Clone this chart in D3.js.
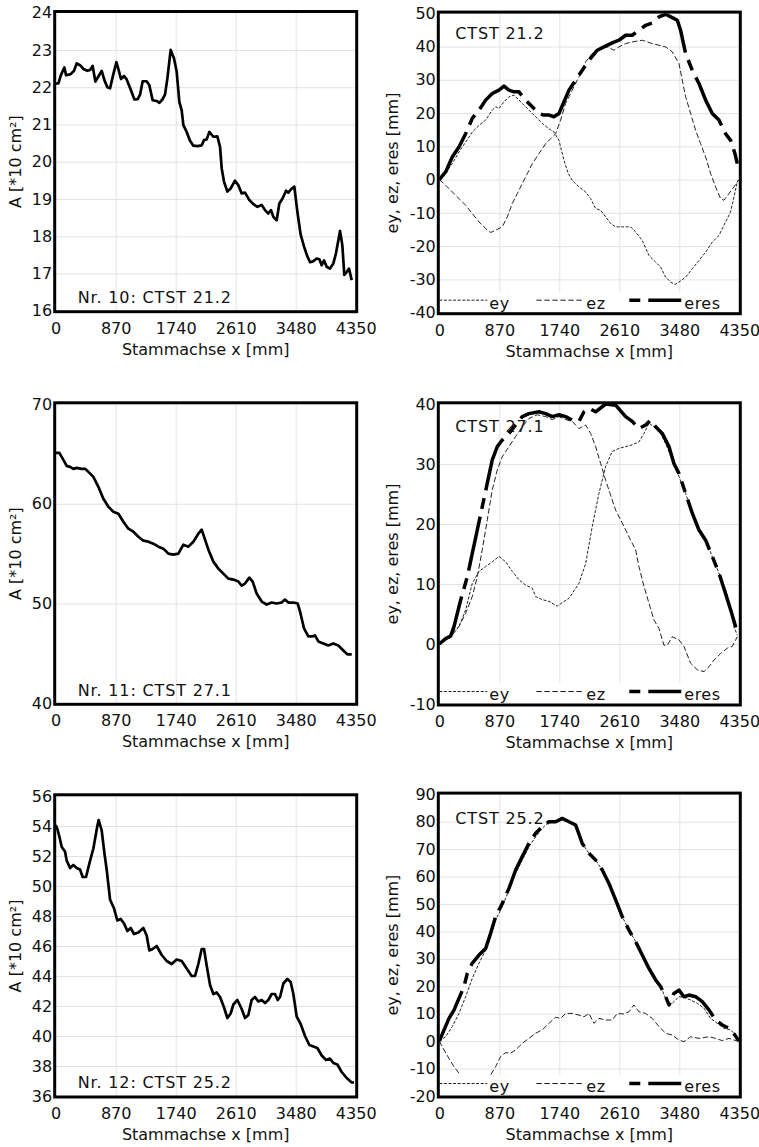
<!DOCTYPE html>
<html>
<head>
<meta charset="utf-8">
<script src="https://cdn.jsdelivr.net/npm/d3@7"></script>
<style>
  body { margin: 0; background: #fff; }
  svg { display: block; font-family: "DejaVu Sans", sans-serif; }
</style>
</head>
<body>
<svg id="chart" width="759" height="1147"></svg>
<script>
// x axis is the same for all six panels
const xTicks = [0, 870, 1740, 2610, 3480, 4350];

// Nr. 10: CTST 21.2
const nr10Ticks = [16, 17, 18, 19, 20, 21, 22, 23, 24];
const nr10Area = [[0,22.1],[39,22.1],[77,22.33],[126,22.53],[150,22.32],[217,22.35],[266,22.44],[304,22.64],[353,22.59],[401,22.49],[459,22.44],[498,22.46],[536,22.57],[575,22.15],[623,22.3],[667,22.44],[706,22.19],[749,22.0],[788,21.97],[836,22.35],[880,22.67],[913,22.46],[947,22.22],[991,22.3],[1029,22.21],[1087,21.94],[1141,21.67],[1189,21.68],[1223,21.8],[1261,22.16],[1319,22.16],[1358,22.05],[1406,21.65],[1464,21.63],[1503,21.58],[1547,21.67],[1585,21.8],[1619,22.23],[1667,23.0],[1716,22.77],[1754,22.42],[1793,21.6],[1827,21.38],[1851,20.98],[1899,20.8],[1948,20.56],[1996,20.43],[2054,20.42],[2117,20.44],[2151,20.58],[2189,20.6],[2228,20.8],[2286,20.67],[2344,20.68],[2383,20.4],[2407,19.82],[2441,19.46],[2489,19.2],[2537,19.28],[2600,19.49],[2648,19.37],[2697,19.15],[2745,19.17],[2808,18.97],[2866,18.86],[2924,18.79],[2987,18.84],[3035,18.7],[3083,18.61],[3122,18.7],[3156,18.52],[3204,18.43],[3243,18.88],[3291,19.02],[3340,19.22],[3373,19.17],[3412,19.26],[3460,19.33],[3504,18.66],[3552,18.04],[3601,17.72],[3649,17.46],[3688,17.3],[3736,17.33],[3784,17.4],[3823,17.38],[3857,17.22],[3891,17.35],[3929,17.18],[3977,17.13],[4026,17.27],[4064,17.54],[4123,18.14],[4156,17.76],[4185,16.96],[4219,17.04],[4253,17.13],[4292,16.82]];
const nr10ETicks = [-40, -30, -20, -10, 0, 10, 20, 30, 40, 50];
const nr10Ey = [[0,0],[92,2],[188,4.8],[285,8.3],[382,11.3],[478,14.3],[575,16.3],[672,17.9],[768,20.9],[817,21.9],[865,21.4],[938,23.4],[1010,24.9],[1083,25.4],[1155,23.9],[1252,21.9],[1348,19.9],[1421,18.4],[1493,16.9],[1590,15.3],[1663,14.3],[1735,11.8],[1808,5.8],[1870,1.8],[1928,-0.2],[2025,-2.2],[2122,-3.7],[2194,-5.7],[2267,-8.7],[2339,-9.2],[2412,-11.2],[2484,-13.2],[2557,-14.2],[2653,-14.2],[2774,-14.2],[2847,-15.7],[2943,-18.3],[3040,-22.8],[3137,-24.8],[3209,-26.3],[3282,-29.3],[3354,-30.8],[3417,-31.5],[3475,-30.8],[3572,-29.3],[3668,-26.8],[3765,-24.3],[3862,-21.8],[3958,-18.8],[4055,-16.8],[4127,-13.7],[4224,-9.7],[4272,-5.2],[4321,-0.7],[4345,0]];
const nr10Ez = [[0,0],[92,-1.7],[237,-4.7],[382,-7.7],[478,-10.2],[575,-12.7],[672,-14.7],[744,-15.9],[817,-15.2],[913,-14.2],[986,-11.2],[1058,-7.2],[1131,-4.2],[1203,-1.2],[1276,1.8],[1348,4.8],[1445,7.8],[1542,10.8],[1614,12.3],[1687,13.8],[1759,17.9],[1832,22.9],[1928,26.9],[2025,30.9],[2122,35.4],[2218,37.9],[2315,39.4],[2436,39.9],[2533,38.9],[2605,39.9],[2702,40.9],[2798,41.4],[2943,41.9],[3088,40.9],[3282,39.9],[3378,38.4],[3475,34.9],[3523,29.9],[3572,24.9],[3644,19.9],[3717,14.8],[3789,10.8],[3862,6.8],[3934,1.8],[4007,-2.2],[4079,-5.7],[4127,-6.2],[4200,-4.2],[4272,-2.2],[4335,-0.2]];
const nr10Eres = [[0,0],[92,2.3],[188,6.8],[285,9.8],[382,13.8],[478,18.4],[575,20.9],[672,23.9],[768,25.9],[865,26.9],[938,28.1],[1010,26.9],[1083,26.4],[1155,26.4],[1252,23.9],[1348,21.9],[1445,19.9],[1517,19.4],[1590,19.4],[1663,18.9],[1735,19.9],[1808,23.4],[1880,26.9],[1977,29.9],[2073,32.9],[2170,35.9],[2291,38.9],[2388,39.9],[2508,41.1],[2605,41.9],[2702,43.4],[2798,43.4],[2895,44.9],[2992,46.4],[3088,47.1],[3185,48.9],[3282,49.7],[3378,48.7],[3451,47.9],[3499,44.9],[3572,37.9],[3668,32.9],[3765,28.9],[3862,23.9],[3958,19.9],[4055,17.9],[4151,13.8],[4224,11.8],[4287,7.8],[4321,4.8]];

// Nr. 11: CTST 27.1
const nr11Ticks = [40, 50, 60, 70];
const nr11Area = [[0,65.1],[53,65.1],[111,64.4],[159,63.8],[208,63.7],[256,63.5],[304,63.6],[377,63.5],[425,63.5],[474,63.2],[546,62.7],[619,61.7],[691,60.5],[764,59.7],[836,59.2],[909,59.0],[981,58.2],[1054,57.5],[1126,57.2],[1199,56.7],[1271,56.3],[1344,56.2],[1416,56.0],[1489,55.7],[1561,55.5],[1634,55.0],[1706,54.9],[1779,55.0],[1851,55.9],[1924,55.7],[1996,56.2],[2068,57.0],[2117,57.4],[2151,56.7],[2214,55.4],[2286,54.2],[2359,53.5],[2431,53.0],[2504,52.5],[2576,52.4],[2649,52.2],[2697,51.8],[2745,52.0],[2808,52.6],[2856,52.2],[2914,51.0],[2987,50.2],[3059,49.9],[3132,50.1],[3204,50.0],[3276,50.1],[3325,50.4],[3373,50.1],[3446,50.1],[3509,50.0],[3543,49.2],[3601,47.5],[3663,46.7],[3712,46.7],[3760,46.8],[3808,46.2],[3881,46.0],[3953,45.8],[4026,46.0],[4098,45.8],[4171,45.3],[4229,44.9],[4292,44.9]];
const nr11ETicks = [-10, 0, 10, 20, 30, 40];
const nr11Ey = [[0,0],[92,0.7],[188,1.8],[285,2.9],[382,5.7],[478,10.1],[575,12.1],[672,12.9],[768,13.7],[865,14.6],[962,13.7],[1058,12.1],[1155,10.7],[1252,9.8],[1348,9.3],[1397,7.9],[1493,7.4],[1590,7.1],[1711,6.3],[1783,6.9],[1880,7.6],[2025,10.1],[2122,13.4],[2218,19.6],[2315,25.1],[2412,29.6],[2508,32.1],[2605,32.6],[2702,32.9],[2798,33.2],[2895,33.7],[2968,35.1],[3040,36.8],[3112,36.2],[3209,35.1],[3282,33.4],[3378,30.7],[3475,27.9],[3572,25.1],[3668,21.8],[3765,19.0],[3862,17.3],[3958,14.6],[4055,11.8],[4151,9.0],[4224,5.7],[4272,2.9],[4321,1.5]];
const nr11Ez = [[0,0],[92,0.7],[188,1.5],[285,2.9],[382,5.1],[478,7.9],[551,11.2],[623,15.7],[696,20.7],[768,25.7],[841,29.0],[913,31.2],[1010,32.9],[1107,34.6],[1203,36.2],[1300,37.6],[1421,38.2],[1542,37.9],[1638,37.4],[1735,37.9],[1832,37.4],[1928,37.1],[2025,35.9],[2122,36.5],[2194,35.1],[2267,32.9],[2339,30.1],[2412,27.3],[2484,24.8],[2557,22.3],[2629,20.7],[2702,19.0],[2774,17.3],[2847,15.7],[2895,12.9],[2968,9.6],[3040,6.8],[3112,4.0],[3185,2.6],[3257,-0.2],[3306,-0.2],[3378,1.2],[3475,0.7],[3547,-0.4],[3644,-3.2],[3741,-4.3],[3838,-4.6],[3910,-3.8],[3982,-2.7],[4079,-1.6],[4176,-0.7],[4248,-0.4],[4321,1.2]];
const nr11Eres = [[0,0],[92,0.9],[164,1.3],[213,2.9],[309,7.3],[406,11.2],[478,15.1],[551,19.0],[623,22.9],[696,26.8],[768,30.7],[841,32.9],[913,34.0],[1010,35.1],[1107,36.5],[1203,37.9],[1300,38.4],[1445,38.7],[1542,38.4],[1638,37.9],[1735,38.2],[1832,37.9],[1928,37.3],[2025,37.1],[2098,38.7],[2170,39.3],[2267,38.7],[2412,40.0],[2557,39.8],[2702,37.9],[2798,37.1],[2895,35.9],[2992,36.5],[3064,37.3],[3137,36.2],[3233,35.1],[3330,32.9],[3402,30.1],[3475,28.4],[3572,25.1],[3668,21.8],[3765,19.0],[3862,17.3],[3958,14.6],[4055,11.8],[4151,8.4],[4224,5.7],[4296,2.9],[4321,1.5]];

// Nr. 12: CTST 25.2
const nr12Ticks = [36, 38, 40, 42, 44, 46, 48, 50, 52, 54, 56];
const nr12Area = [[0,54.07],[24,53.8],[53,53.3],[87,52.6],[135,52.3],[159,51.7],[208,51.2],[256,51.4],[304,51.2],[353,51.1],[391,50.6],[440,50.6],[488,51.5],[546,52.5],[604,54.0],[623,54.4],[667,53.7],[706,52.2],[739,51.1],[788,49.1],[846,48.5],[894,47.7],[943,47.8],[991,47.5],[1039,47.0],[1087,47.2],[1136,46.8],[1199,46.9],[1271,47.2],[1319,46.7],[1358,45.7],[1406,45.8],[1464,46.0],[1537,45.4],[1609,45.0],[1682,44.8],[1754,45.1],[1827,45.0],[1899,44.5],[1972,44.0],[2020,44.0],[2068,44.8],[2117,45.8],[2151,45.8],[2189,44.7],[2238,43.4],[2286,42.8],[2334,42.9],[2383,42.6],[2441,41.9],[2489,41.2],[2537,41.5],[2576,42.1],[2634,42.4],[2697,41.8],[2745,41.2],[2793,41.4],[2841,42.4],[2890,42.6],[2938,42.3],[2987,42.4],[3035,42.2],[3083,42.4],[3132,42.8],[3180,42.8],[3219,42.4],[3253,42.6],[3301,43.5],[3359,43.8],[3407,43.6],[3446,42.8],[3494,41.3],[3552,40.8],[3615,40.0],[3678,39.4],[3736,39.3],[3794,39.2],[3857,38.7],[3920,38.4],[3977,38.5],[4026,38.2],[4084,38.1],[4147,37.6],[4219,37.2],[4292,36.9],[4326,36.9]];
const nr12ETicks = [-20, -10, 0, 10, 20, 30, 40, 50, 60, 70, 80, 90];
const nr12Ey = [[0,0],[92,1.6],[188,5.3],[285,10.1],[382,16.2],[478,22.9],[575,28.4],[672,33.2],[744,38.1],[817,44.2],[913,49.0],[1010,55.1],[1107,61.2],[1203,66.0],[1300,70.9],[1397,74.5],[1493,77.6],[1590,80.0],[1687,80.0],[1783,80.6],[1880,80.0],[1977,78.8],[2073,72.1],[2170,68.5],[2267,66.0],[2363,62.4],[2460,57.5],[2557,51.5],[2653,45.4],[2750,40.5],[2847,36.3],[2943,31.4],[3040,25.9],[3137,22.3],[3209,19.9],[3282,15.6],[3354,13.2],[3427,15.0],[3475,16.2],[3547,16.0],[3644,15.0],[3741,13.8],[3838,12.0],[3934,8.3],[4031,6.5],[4127,4.7],[4224,4.1],[4296,2.2],[4345,0]];
const nr12Ez = [[0,0],[68,-3.2],[140,-6.3],[213,-9.3],[285,-11.7],[400,-16],[520,-19],[640,-16],[744,-12.3],[817,-9.3],[889,-5.6],[962,-4.2],[1034,-4.4],[1107,-3.2],[1203,-0.8],[1300,1.0],[1397,2.9],[1493,4.1],[1590,6.5],[1687,8.7],[1759,8.3],[1832,10.1],[1928,10.1],[2025,9.5],[2098,8.9],[2170,10.1],[2242,6.5],[2315,8.3],[2412,7.7],[2508,7.7],[2581,10.1],[2677,9.9],[2750,10.7],[2822,13.2],[2895,10.7],[2992,10.1],[3088,8.3],[3185,5.3],[3282,2.9],[3378,2.2],[3475,0.4],[3547,-0.2],[3644,1.6],[3765,1.0],[3910,1.6],[4007,1.0],[4103,0.2],[4200,1.0],[4272,0.4],[4345,0]];
const nr12Eres = [[0,0],[68,4.0],[140,8.3],[213,11.3],[285,15.6],[358,19.9],[406,24.7],[478,28.4],[575,31.4],[672,33.8],[744,39.3],[817,45.4],[913,50.2],[1010,55.7],[1107,62.4],[1203,67.3],[1300,72.1],[1397,75.8],[1493,78.2],[1590,80.0],[1687,80.0],[1783,81.2],[1880,80.0],[1977,78.8],[2073,72.1],[2170,68.5],[2267,66.0],[2363,62.4],[2460,57.5],[2557,51.5],[2653,45.4],[2750,40.5],[2847,36.3],[2943,31.4],[3040,26.5],[3137,22.3],[3209,19.9],[3282,16.2],[3330,13.2],[3402,17.4],[3475,18.6],[3547,16.2],[3620,16.8],[3717,16.2],[3813,14.4],[3910,11.4],[4007,7.7],[4103,5.9],[4200,4.7],[4287,2.2],[4345,0]];

const legendNames = ["ey", "ez", "eres"];

const svg = d3.select("#chart");
const textColor = "#111";
const fontSize = 16;

const lineStyles = {
  area: { width: 2.7, dash: null, color: "#000" },
  ey: { width: 1, dash: "3,1.6", color: "#222" },
  ez: { width: 1, dash: "5.5,2.5", color: "#222" },
  eres: { width: 3.5, dash: "55,8,11,8", color: "#000" },
};

// plain hyphen for negatives, like the original
const tickText = (d) => String(d);

let clipCount = 0;

function drawPanel(cfg) {
  const g = svg.append("g");
  const w = 300;
  const h = cfg.bottom - cfg.top;
  const x = d3.scaleLinear().domain([0, 4350]).range([cfg.left, cfg.left + w]);
  const y = d3.scaleLinear().domain(d3.extent(cfg.yTicks)).range([cfg.bottom, cfg.top]);

  // grid
  g.append("g")
    .attr("transform", `translate(0,${cfg.bottom})`)
    .call(d3.axisBottom(x).tickValues(xTicks.slice(1, -1)).tickSize(-h).tickFormat(""))
    .call((s) => s.select(".domain").remove())
    .selectAll("line").attr("stroke", "#e2e2e2").attr("stroke-width", 1);
  g.append("g")
    .attr("transform", `translate(${cfg.left},0)`)
    .call(d3.axisLeft(y).tickValues(cfg.yTicks.slice(1, -1)).tickSize(-w).tickFormat(""))
    .call((s) => s.select(".domain").remove())
    .selectAll("line").attr("stroke", "#e2e2e2").attr("stroke-width", 1);

  // annotation (below the curves)
  g.append("text")
    .attr("x", cfg.left + cfg.labelDx)
    .attr("y", cfg.labelY)
    .attr("font-size", fontSize)
    .attr("letter-spacing", 0.85)
    .attr("fill", textColor)
    .text(cfg.label);

  const clipId = "clip" + clipCount++;
  g.append("clipPath").attr("id", clipId)
    .append("rect").attr("x", cfg.left).attr("y", cfg.top).attr("width", w).attr("height", h);

  const line = d3.line().x((d) => x(d[0])).y((d) => y(d[1]));
  const curves = g.append("g").attr("clip-path", `url(#${clipId})`);
  cfg.series.forEach((s) => {
    const st = lineStyles[s.style];
    curves.append("path")
      .datum(s.data)
      .attr("fill", "none")
      .attr("stroke", st.color)
      .attr("stroke-width", st.width)
      .attr("stroke-dasharray", st.dash)
      .attr("stroke-linejoin", "round")
      .attr("d", line);
  });

  // legend on a white strip at the bottom of the plot
  if (cfg.legend) {
    const lg = g.append("g");
    lg.append("rect")
      .attr("x", cfg.left).attr("y", cfg.bottom - 21)
      .attr("width", w).attr("height", 21)
      .attr("fill", "#fff");
    legendNames.forEach((name, i) => {
      const st = lineStyles[name];
      const x0 = cfg.left + i * 97;
      lg.append("line")
        .attr("x1", x0 + (i === 2 ? -4 : 0)).attr("x2", x0 + 48)
        .attr("y1", cfg.bottom - 12.5).attr("y2", cfg.bottom - 12.5)
        .attr("stroke", st.color)
        .attr("stroke-width", st.width)
        .attr("stroke-dasharray", st.dash)
        .attr("stroke-dashoffset", i === 2 ? 63 : 0);
      lg.append("text")
        .attr("x", x0 + 50 + (i === 2 ? 1 : 0)).attr("y", cfg.bottom - 4)
        .attr("font-size", fontSize)
        .attr("letter-spacing", 0.5)
        .attr("fill", textColor)
        .text(name);
    });
  }

  // frame
  g.append("rect")
    .attr("x", cfg.left - 1).attr("y", cfg.top - 1.2)
    .attr("width", w + 2).attr("height", h + 2.2)
    .attr("fill", "none")
    .attr("stroke", "#000")
    .attr("stroke-width", 3);

  // tick labels
  const xa = g.append("g")
    .attr("transform", `translate(0,${cfg.bottom})`)
    .call(d3.axisBottom(x).tickValues(xTicks).tickSize(0).tickPadding(11.5).tickFormat(tickText));
  const ya = g.append("g")
    .attr("transform", `translate(${cfg.left},0)`)
    .call(d3.axisLeft(y).tickValues(cfg.yTicks).tickSize(0).tickPadding(3.5).tickFormat(tickText));
  [xa, ya].forEach((a) => {
    a.select(".domain").remove();
    a.attr("font-family", null).attr("font-size", fontSize);
    a.selectAll("text").attr("fill", textColor);
  });

  // axis titles
  g.append("text")
    .attr("x", cfg.left + w / 2)
    .attr("y", cfg.bottom + 44)
    .attr("text-anchor", "middle")
    .attr("font-size", fontSize)
    .attr("fill", textColor)
    .text("Stammachse x [mm]");
  g.append("text")
    .attr("transform", `translate(${cfg.titleX},${(cfg.top + cfg.bottom) / 2}) rotate(-90)`)
    .attr("text-anchor", "middle")
    .attr("font-size", fontSize)
    .attr("fill", textColor)
    .text(cfg.yTitle);
}

const leftX = 55.7;
const rightX = 439.3;

drawPanel({ left: leftX, top: 12.7, bottom: 310.7, yTicks: nr10Ticks, titleX: 20.5, yTitle: "A [*10 cm²]",
  label: "Nr. 10: CTST 21.2", labelDx: 22, labelY: 302.7, legend: false,
  series: [{ style: "area", data: nr10Area }] });
drawPanel({ left: rightX, top: 13.3, bottom: 312.7, yTicks: nr10ETicks, titleX: 398, yTitle: "ey, ez, eres [mm]",
  label: "CTST 21.2", labelDx: 16, labelY: 39.3, legend: true,
  series: [{ style: "ey", data: nr10Ey }, { style: "ez", data: nr10Ez }, { style: "eres", data: nr10Eres }] });

drawPanel({ left: leftX, top: 404, bottom: 703.3, yTicks: nr11Ticks, titleX: 20.5, yTitle: "A [*10 cm²]",
  label: "Nr. 11: CTST 27.1", labelDx: 22, labelY: 696, legend: false,
  series: [{ style: "area", data: nr11Area }] });
drawPanel({ left: rightX, top: 404, bottom: 704, yTicks: nr11ETicks, titleX: 398, yTitle: "ey, ez, eres [mm]",
  label: "CTST 27.1", labelDx: 16, labelY: 431.7, legend: true,
  series: [{ style: "ey", data: nr11Ey }, { style: "ez", data: nr11Ez }, { style: "eres", data: nr11Eres }] });

drawPanel({ left: leftX, top: 796, bottom: 1096, yTicks: nr12Ticks, titleX: 20.5, yTitle: "A [*10 cm²]",
  label: "Nr. 12: CTST 25.2", labelDx: 22, labelY: 1088, legend: false,
  series: [{ style: "area", data: nr12Area }] });
drawPanel({ left: rightX, top: 794.3, bottom: 1096, yTicks: nr12ETicks, titleX: 398, yTitle: "ey, ez, eres [mm]",
  label: "CTST 25.2", labelDx: 16, labelY: 823.7, legend: true,
  series: [{ style: "ey", data: nr12Ey }, { style: "ez", data: nr12Ez }, { style: "eres", data: nr12Eres }] });
</script>
</body>
</html>
